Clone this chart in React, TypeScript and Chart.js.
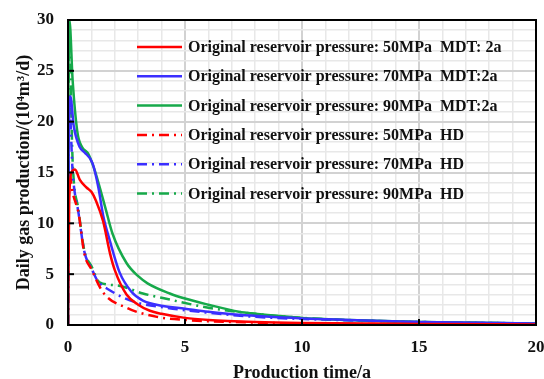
import React, { useEffect, useRef } from "react";
import { Chart, registerables } from "chart.js";

Chart.register(...registerables);

type P = [number, number];

const seriesLabels = [
  "Original reservoir pressure: 50MPa  MDT: 2a",
  "Original reservoir pressure: 70MPa  MDT:2a",
  "Original reservoir pressure: 90MPa  MDT:2a",
  "Original reservoir pressure: 50MPa  HD",
  "Original reservoir pressure: 70MPa  HD",
  "Original reservoir pressure: 90MPa  HD",
];

const red50MDT: P[] = [
  [0, 0], [0.05, 12], [0.15, 15], [0.3, 15.3], [0.5, 14.3], [0.8, 13.5], [1.0, 13.1],
  [1.2, 12.2], [1.5, 10.2], [1.8, 7.0], [2.0, 5.4], [2.5, 3.0], [3.0, 2.0], [3.5, 1.4],
  [4.0, 1.1], [5.0, 0.7], [6.0, 0.5], [8.0, 0.3], [10, 0.2], [15, 0.1], [20, 0.05],
];
const blue70MDT: P[] = [
  [0, 0], [0.03, 18], [0.1, 22.5], [0.25, 19.5], [0.5, 17.5], [0.7, 17], [1.05, 15.9],
  [1.3, 13.5], [1.5, 10.8], [1.8, 8.2], [2.2, 5.2], [2.7, 3.3], [3.2, 2.4], [4, 1.9],
  [5, 1.6], [6, 1.3], [7.3, 1.0], [10, 0.65], [12, 0.5], [15, 0.3], [20, 0.15],
];
const green90MDT: P[] = [
  [0, 0], [0.02, 25], [0.06, 30], [0.2, 24], [0.4, 19], [0.6, 17.5], [0.85, 16.9],
  [1.1, 15.5], [1.35, 13.6], [1.6, 11.5], [1.9, 9.0], [2.5, 6.1], [3.0, 4.8], [3.4, 4.1],
  [4.35, 3.1], [5, 2.6], [6, 2.0], [7.3, 1.3], [8, 1.1], [10, 0.7], [12, 0.5], [15, 0.3], [20, 0.15],
];
const red50HD: P[] = [
  [0, 0], [0.05, 15], [0.2, 13], [0.45, 11], [0.7, 7], [1.0, 5.5], [1.5, 3.2], [2.5, 1.7],
  [3.8, 0.8], [5, 0.5], [7, 0.3], [10, 0.15], [15, 0.08], [20, 0.05],
];
const blue70HD: P[] = [
  [0, 0], [0.05, 22], [0.2, 15], [0.45, 11], [0.7, 7.2], [1.0, 5.6], [1.25, 4.4], [1.8, 3.4],
  [2.8, 2.3], [4.2, 1.7], [6, 1.2], [8, 0.8], [10, 0.6], [15, 0.3], [20, 0.15],
];
const green90HD: P[] = [
  [0, 0], [0.05, 28], [0.2, 16], [0.45, 11.3], [0.7, 7.3], [1.0, 5.8], [1.35, 4.2], [2.1, 3.9],
  [3.2, 3.1], [4.35, 2.5], [6, 1.7], [8, 1.1], [10, 0.7], [15, 0.3], [20, 0.15],
];

const seriesData: P[][] = [red50MDT, blue70MDT, green90MDT, red50HD, blue70HD, green90HD];
const seriesColors = ["#ff0000", "#3b2fff", "#16a94a", "#ff0000", "#3b2fff", "#16a94a"];
const seriesDashed = [false, false, false, true, true, true];

const xTitle = "Production time/a";
const yTitle = "Daily gas production/(10\u2074m\u00B3/d)";
const FONT = "'Liberation Serif', 'Times New Roman', serif";
const DASH = [10, 5, 2, 5];

const framePlugin = {
  id: "frameAndLegend",
  afterDraw(chart: any) {
    const { ctx, chartArea: a, scales } = chart;
    ctx.save();
    ctx.strokeStyle = "#000";
    ctx.lineWidth = 2;
    for (let v = 5; v < 20; v += 5) {
      const x = scales.x.getPixelForValue(v);
      ctx.beginPath();
      ctx.moveTo(x, a.bottom);
      ctx.lineTo(x, a.bottom - 6);
      ctx.stroke();
    }
    for (let v = 5; v < 30; v += 5) {
      const y = scales.y.getPixelForValue(v);
      ctx.beginPath();
      ctx.moveTo(a.left, y);
      ctx.lineTo(a.left + 6, y);
      ctx.stroke();
    }
    ctx.lineWidth = 2;
    ctx.strokeRect(a.left, a.top, a.right - a.left, a.bottom - a.top);
    const ds = chart.data.datasets;
    ctx.font = `bold 16px ${FONT}`;
    ctx.textBaseline = "middle";
    ctx.textAlign = "left";
    ds.forEach((d: any, i: number) => {
      const y = 47 + i * 29.3;
      ctx.strokeStyle = d.borderColor;
      ctx.lineWidth = 2.5;
      ctx.setLineDash(d.borderDash || []);
      ctx.beginPath();
      ctx.moveTo(137, y);
      ctx.lineTo(182, y);
      ctx.stroke();
      ctx.setLineDash([]);
      ctx.fillStyle = "#111";
      ctx.fillText(d.label, 188, y + 1);
    });
    ctx.restore();
  },
};

const gridColor = (c: any) => (c.tick && c.tick.value % 5 === 0 ? "#d2d2d2" : "#e8e8e8");
const gridWidth = (c: any) => (c.tick && c.tick.value % 5 === 0 ? 2 : 1.5);

export default function App() {
  const ref = useRef<HTMLCanvasElement | null>(null);
  useEffect(() => {
    if (!ref.current) return;
    const chart = new Chart(ref.current, {
      type: "line",
      data: {
        datasets: seriesData.map((pts, i) => ({
          label: seriesLabels[i],
          data: pts.map(([x, y]) => ({ x, y })),
          borderColor: seriesColors[i],
          backgroundColor: seriesColors[i],
          borderWidth: 2.5,
          borderDash: seriesDashed[i] ? DASH : [],
          pointRadius: 0,
          fill: false,
          cubicInterpolationMode: "monotone" as const,
        })),
      },
      options: {
        animation: false,
        responsive: false,
        maintainAspectRatio: false,
        layout: { padding: { left: 0, top: 20, right: 8, bottom: 0 } },
        plugins: { legend: { display: false }, tooltip: { enabled: false } },
        scales: {
          x: {
            type: "linear",
            min: 0,
            max: 20,
            afterFit: (s: any) => {
              s.height = 54;
              s.paddingLeft = 0;
              s.paddingRight = 0;
            },
            ticks: {
              stepSize: 1,
              autoSkip: false,
              maxRotation: 0,
              padding: 12,
              color: "#111",
              font: { family: FONT, size: 17, weight: "bold" },
              callback: (v: any) => (Number(v) % 5 === 0 ? String(v) : ""),
            },
            grid: { drawTicks: false, color: gridColor, lineWidth: gridWidth },
            border: { color: "#000", width: 2 },
            title: {
              display: true,
              text: xTitle,
              color: "#111",
              font: { family: FONT, size: 18, weight: "bold" },
              padding: { top: 4, bottom: -5 },
            },
          },
          y: {
            min: 0,
            max: 30,
            afterFit: (s: any) => {
              s.width = 68;
              s.paddingTop = 0;
              s.paddingBottom = 0;
            },
            ticks: {
              stepSize: 1,
              autoSkip: false,
              padding: 14,
              color: "#111",
              font: { family: FONT, size: 17, weight: "bold" },
              callback: (v: any) => (Number(v) % 5 === 0 ? String(v) : ""),
            },
            grid: { drawTicks: false, color: gridColor, lineWidth: gridWidth },
            border: { color: "#000", width: 2 },
            title: {
              display: true,
              text: yTitle,
              color: "#111",
              font: { family: FONT, size: 18, weight: "bold" },
              padding: { top: 14, bottom: 0 },
            },
          },
        },
      },
      plugins: [framePlugin],
    });
    return () => chart.destroy();
  }, []);
  return (
    <div style={{ position: "fixed", left: 0, top: 0, width: 544, height: 379, background: "#fff" }}>
      <canvas ref={ref} width={544} height={379} style={{ width: 544, height: 379 }} />
    </div>
  );
}
